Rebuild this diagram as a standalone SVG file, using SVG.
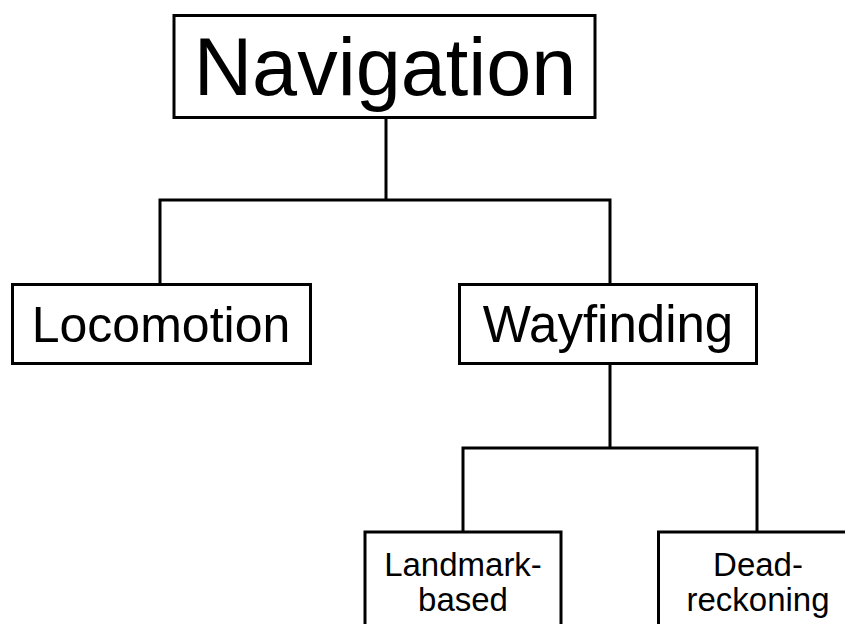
<svg xmlns="http://www.w3.org/2000/svg" width="845" height="624" viewBox="0 0 845 624">
<style>
.box{fill:#fff;stroke:#000;stroke-width:3}
.con{fill:none;stroke:#000;stroke-width:3;stroke-linecap:square}
text{font-family:"Liberation Sans",Arial,sans-serif;fill:#000;text-anchor:middle}
.sm{font-size:33px}
</style>
<rect width="845" height="624" fill="#fff"/>
<g id="connectors">
<path class="con" d="M386 117V200M160 200H610M160 200V284M610 200V284"/>
<path class="con" d="M610 363V448M463 448H757M463 448V532M757 448V532"/>
</g>
<g id="navigation">
<rect class="box" x="174" y="15.5" width="421" height="102"/>
<text x="385" y="95" font-size="81">Navigation</text>
</g>
<g id="locomotion">
<rect class="box" x="12.5" y="284.5" width="298" height="79"/>
<text x="161" y="342" font-size="50">Locomotion</text>
</g>
<g id="wayfinding">
<rect class="box" x="459.5" y="284.5" width="297" height="79"/>
<text x="608" y="342" font-size="51">Wayfinding</text>
</g>
<g id="landmark">
<rect class="box" x="365" y="532" width="196" height="100"/>
<text class="sm" x="463" y="575.5">Landmark-</text>
<text class="sm" x="463" y="610.5">based</text>
</g>
<g id="deadreckoning">
<rect class="box" x="658.5" y="532" width="196" height="100"/>
<text class="sm" x="758" y="575.5">Dead-</text>
<text class="sm" x="758" y="610.5">reckoning</text>
</g>
</svg>
